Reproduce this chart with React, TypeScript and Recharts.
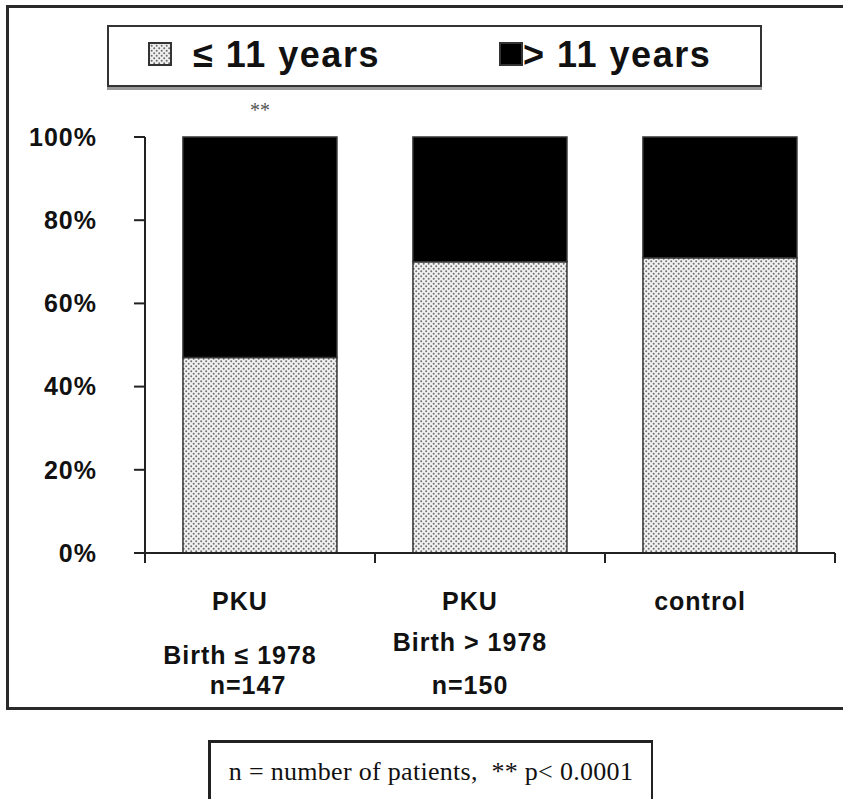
import { Bar, BarChart, LabelList, XAxis, YAxis } from "recharts";

// groups on the x axis, written as three text lines under each bar
const lineOne = ["PKU", "PKU", "control"];
const lineTwo = ["Birth ≤ 1978", "Birth > 1978", ""];
const lineThree = ["n=147", "n=150", ""];
// share of each group, in %
const upTo11 = [47, 70, 71];
const over11 = [53, 30, 29];
const marks = ["**", "", ""];
const yTicks = [0, 20, 40, 60, 80, 100];

const seriesNames = ["≤ 11 years", "> 11 years"];

const data = lineOne.map((name, i) => ({
  name: name + " " + lineTwo[i],
  young: upTo11[i],
  old: over11[i],
  mark: marks[i],
}));

const SANS = "'Liberation Sans', Arial, sans-serif";
const SERIF = "'Liberation Serif', 'Times New Roman', serif";

const labelStyle = {
  fontFamily: SANS,
  fontWeight: "bold",
  fontSize: 25,
  letterSpacing: 1,
  fill: "#111",
};

const CatTick = (props: any) => {
  const { x, y, payload, index } = props;
  const i = payload?.index ?? index ?? 0;
  const half = payload?.offset || 115;
  const tx = x - 20; // labels sit a little left of the bars in the original
  return (
    <g>
      <line x1={x - half} x2={x - half} y1={y} y2={y + 10} stroke="#222" strokeWidth={2} />
      <line x1={x + half} x2={x + half} y1={y} y2={y + 10} stroke="#222" strokeWidth={2} />
      <text x={tx} y={y + 57} textAnchor="middle" {...labelStyle}>
        {lineOne[i]}
      </text>
      {lineTwo[i] && (
        <text x={tx} y={y + (i === 0 ? 111 : 98)} textAnchor="middle" {...labelStyle}>
          {lineTwo[i]}
        </text>
      )}
      {lineThree[i] && (
        <text x={tx + (i === 0 ? 8 : 0)} y={y + 141} textAnchor="middle" {...labelStyle}>
          {lineThree[i]}
        </text>
      )}
    </g>
  );
};

const Swatch = ({ dotted }: { dotted: boolean }) => (
  <svg width={24} height={24} style={{ display: "block" }}>
    <defs>
      <pattern id="legdots" width={5} height={5} patternUnits="userSpaceOnUse">
        <rect width={5} height={5} fill="#f0f0f0" />
        <circle cx={1.2} cy={1.2} r={1} fill="#6a6a6a" />
        <circle cx={3.7} cy={3.7} r={1} fill="#6a6a6a" />
      </pattern>
    </defs>
    <rect x={1} y={1} width={22} height={22} fill={dotted ? "url(#legdots)" : "#000"} stroke="#333" strokeWidth={2} />
  </svg>
);

export default function App() {
  const legendText = {
    position: "absolute" as const,
    top: 7,
    fontFamily: SANS,
    fontWeight: "bold" as const,
    fontSize: 36,
    letterSpacing: 1.5,
    color: "#111",
    lineHeight: "42px",
    whiteSpace: "pre" as const,
  };
  return (
    <div style={{ position: "absolute", left: 0, top: 0, width: 843, height: 799, background: "#fff", overflow: "hidden" }}>
      {/* outer frame: top, left and bottom only */}
      <div
        style={{
          position: "absolute",
          left: 6,
          top: 5,
          width: 850,
          height: 699,
          borderTop: "3px solid #2a2a2a",
          borderLeft: "3px solid #2a2a2a",
          borderBottom: "3px solid #2a2a2a",
        }}
      />

      {/* legend box */}
      <div
        style={{
          position: "absolute",
          left: 107,
          top: 25,
          width: 651,
          height: 58,
          border: "2px solid #333",
          boxShadow: "0 3px 0 #999",
        }}
      >
        <div style={{ position: "absolute", left: 39, top: 15 }}>
          <Swatch dotted={true} />
        </div>
        <span style={{ ...legendText, left: 84 }}>{seriesNames[0]}</span>
        <div style={{ position: "absolute", left: 390, top: 15 }}>
          <Swatch dotted={false} />
        </div>
        <span style={{ ...legendText, left: 414 }}>{seriesNames[1]}</span>
      </div>

      <div style={{ position: "absolute", left: 0, top: 0 }}>
        <BarChart
          width={843}
          height={799}
          data={data}
          margin={{ top: 137, right: 8, left: 85, bottom: 0 }}
          barCategoryGap="16.5%"
        >
          <defs>
            <pattern id="dots" width={5} height={5} patternUnits="userSpaceOnUse">
              <rect width={5} height={5} fill="#f0f0f0" />
              <circle cx={1.2} cy={1.2} r={1} fill="#707070" />
              <circle cx={3.7} cy={3.7} r={1} fill="#707070" />
            </pattern>
          </defs>
          <XAxis
            dataKey="name"
            height={246}
            interval={0}
            tickLine={false}
            tickSize={0}
            tickMargin={0}
            axisLine={{ stroke: "#222", strokeWidth: 2 }}
            tick={<CatTick />}
          />
          <YAxis
            width={60}
            domain={[0, 100]}
            ticks={yTicks}
            interval={0}
            tickSize={11}
            tickMargin={37}
            tickFormatter={(v: number) => v + "%"}
            axisLine={{ stroke: "#222", strokeWidth: 2 }}
            tickLine={{ stroke: "#222", strokeWidth: 2 }}
            tick={{ fill: "#111", fontFamily: SANS, fontWeight: "bold", fontSize: 25, letterSpacing: 1 }}
          />
          <Bar dataKey="young" name={seriesNames[0]} stackId="a" fill="url(#dots)" stroke="#333" strokeWidth={1.5} isAnimationActive={false} />
          <Bar dataKey="old" name={seriesNames[1]} stackId="a" fill="#000" stroke="#333" strokeWidth={1.5} isAnimationActive={false}>
            <LabelList dataKey="mark" position="top" offset={20} fill="#555" fontFamily={SERIF} fontSize={20} />
          </Bar>
        </BarChart>
      </div>

      {/* footnote box */}
      <div
        style={{
          position: "absolute",
          left: 208,
          top: 740,
          width: 445,
          height: 80,
          borderTop: "3px solid #222",
          borderLeft: "3px solid #222",
          borderRight: "2px solid #222",
          fontFamily: SERIF,
          fontSize: 26,
          letterSpacing: 0.3,
          color: "#111",
          textAlign: "center",
          paddingTop: 14,
          boxSizing: "border-box",
          whiteSpace: "pre",
        }}
      >
        {"n = number of patients,  ** p< 0.0001"}
      </div>
    </div>
  );
}
